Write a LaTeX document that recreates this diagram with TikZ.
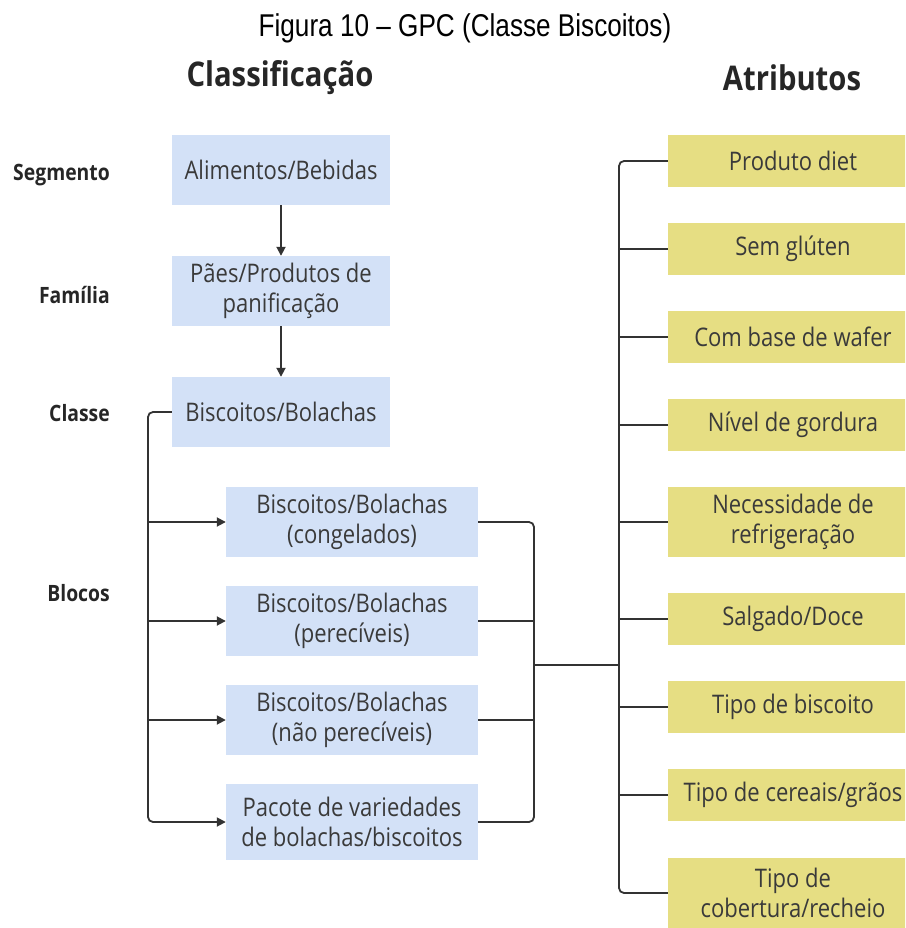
\documentclass[tikz,border=0pt]{standalone}
\usepackage{fontspec}
% narrowed faces set at a larger size give the tall, slim lettering
\setmainfont{Open Sans}[FakeStretch=0.86]
\newfontfamily\captionfont{Liberation Sans}[FakeStretch=0.83]
\usetikzlibrary{arrows.meta}
\definecolor{boxblue}{HTML}{D3E1F7}
\definecolor{boxyellow}{HTML}{E6DE83}
\definecolor{ink}{HTML}{3A3A3A}
\definecolor{wire}{HTML}{333333}
\tikzset{
  classbox/.style={fill=boxblue, text=ink, align=center, inner sep=0pt,
    minimum height=70pt, font=\fontsize{25.6}{30}\selectfont},
  attrbox/.style={fill=boxyellow, text=ink, align=center, inner sep=0pt,
    minimum width=250pt, minimum height=52pt, font=\fontsize{25.6}{30}\selectfont},
  levellabel/.style={anchor=east, text=black!85, inner sep=0pt,
    font=\fontsize{22.5}{26}\selectfont\bfseries},
  header/.style={text=black!85, inner sep=0pt, font=\fontsize{34}{40}\selectfont\bfseries},
  wireline/.style={draw=wire, line width=1.8pt, rounded corners=5pt},
  arrowline/.style={wireline, -{Triangle[length=9pt,width=9pt]}},
}
\begin{document}
\begin{tikzpicture}[x=1pt,y=-1pt]
\useasboundingbox (0,0) rectangle (905,928);
\begin{scope}
\clip (0,0) rectangle (905,928);

% caption and column headers
\node[inner sep=0pt, font=\captionfont\fontsize{31.5}{36}\selectfont] (cap) at (465,28) {Figura 10 – GPC (Classe Biscoitos)};
\node[header] (hclass) at (280,78) {Classificação};
\node[header] (hattr) at (792,78) {Atributos};

% hierarchy level names
\node[levellabel] (lseg) at (110,175) {Segmento};
\node[levellabel] (lfam) at (110,295) {Família};
\node[levellabel] (lcla) at (110,413) {Classe};
\node[levellabel] (lblo) at (110,593) {Blocos};

% classification boxes
\node[classbox, minimum width=218pt] (seg) at (281,170) {Alimentos/Bebidas};
\node[classbox, minimum width=218pt] (fam) at (281,291) {Pães/Produtos de\\panificação};
\node[classbox, minimum width=218pt] (cla) at (281,412) {Biscoitos/Bolachas};
\node[classbox, minimum width=252pt] (b1) at (352,522) {Biscoitos/Bolachas\\(congelados)};
\node[classbox, minimum width=252pt] (b2) at (352,621) {Biscoitos/Bolachas\\(perecíveis)};
\node[classbox, minimum width=252pt] (b3) at (352,720) {Biscoitos/Bolachas\\(não perecíveis)};
\node[classbox, minimum width=252pt, minimum height=76pt] (b4) at (352,822) {Pacote de variedades\\de bolachas/biscoitos};

% attribute boxes
\node[attrbox] (t1) at (793,161) {Produto diet};
\node[attrbox] (t2) at (793,249) {Sem glúten};
\node[attrbox] (t3) at (793,337) {Com base de wafer};
\node[attrbox] (t4) at (793,425) {Nível de gordura};
\node[attrbox, minimum height=70pt] (t5) at (793,522) {Necessidade de\\refrigeração};
\node[attrbox] (t6) at (793,619) {Salgado/Doce};
\node[attrbox] (t7) at (793,707) {Tipo de biscoito};
\node[attrbox] (t8) at (793,795) {Tipo de cereais/grãos};
\node[attrbox, minimum height=70pt] (t9) at (793,893) {Tipo de\\cobertura/recheio};

% bus coordinates
\coordinate (lx) at (148,0);
\coordinate (rx) at (534,0);
\coordinate (ax) at (619,0);
\coordinate (jl) at (534,665);
\coordinate (jr) at (619,665);

% segment -> family -> class
\draw[arrowline] (seg.south) -- (fam.north);
\draw[arrowline] (fam.south) -- (cla.north);

% class -> blocks
\draw[arrowline] (cla.west) -- (cla.west -| lx) -- (b4.west -| lx) -- (b4.west);
\foreach \b in {b1,b2,b3}
  \draw[arrowline] (\b.west -| lx) -- (\b.west);

% blocks -> attributes
\draw[wireline] (b1.east) -- (b1.east -| rx) -- (b4.east -| rx) -- (b4.east);
\foreach \b in {b2,b3}
  \draw[wireline] (\b.east) -- (\b.east -| rx);
\draw[wireline] (jl) -- (jr);
\draw[wireline] (t1.west) -- (t1.west -| ax) -- (t9.west -| ax) -- (t9.west);
\foreach \t in {t2,t3,t4,t5,t6,t7,t8}
  \draw[wireline] (\t.west -| ax) -- (\t.west);
\end{scope}
\end{tikzpicture}
\end{document}
